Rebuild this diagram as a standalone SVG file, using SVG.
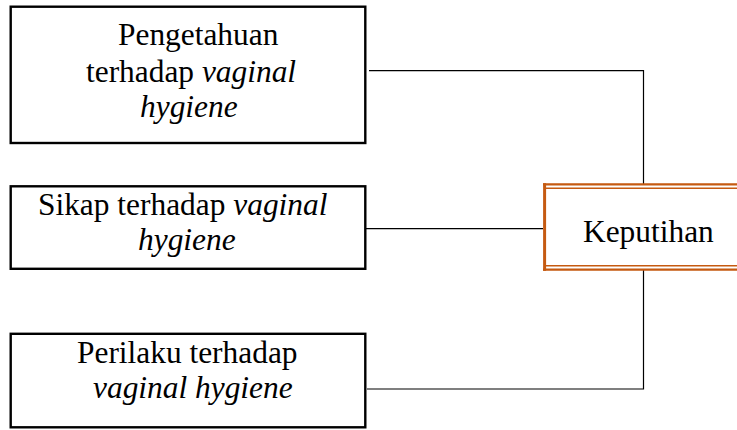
<svg xmlns="http://www.w3.org/2000/svg" width="737" height="430" viewBox="0 0 737 430">
<style>
.box{fill:#fff;stroke:#000;stroke-width:2.4}
.t{font-family:"Liberation Serif","Times New Roman",serif;font-size:31.4px;fill:#000}
.i{font-style:italic}
.c{fill:none;stroke:#000;stroke-width:1.2}
.o{stroke:#c55a11;fill:none}
</style>
<rect width="737" height="430" fill="#fff"/>
<g id="connectors">
<path class="c" d="M369 70.7H643.5V184"/>
<path class="c" d="M360 228.7H543"/>
<path class="c" d="M643.5 270V389H367"/>
</g>
<g id="pengetahuan">
<rect class="box" x="10.7" y="6.7" width="354.6" height="136.3"/>
<text class="t" x="118" y="45">Pengetahuan</text>
<text class="t" x="86" y="82">terhadap <tspan class="i">vaginal</tspan></text>
<text class="t i" x="140" y="117">hygiene</text>
</g>
<g id="sikap">
<rect class="box" x="10.7" y="186.3" width="354.6" height="82.5"/>
<text class="t" x="38" y="215">Sikap terhadap <tspan class="i">vaginal</tspan></text>
<text class="t i" x="138" y="250">hygiene</text>
</g>
<g id="perilaku">
<rect class="box" x="10.7" y="333.8" width="354.6" height="93.5"/>
<text class="t" x="77" y="363">Perilaku terhadap</text>
<text class="t i" x="93" y="398">vaginal hygiene</text>
</g>
<g id="keputihan">
<rect x="544" y="184" width="200" height="86" fill="#fff"/>
<path class="o" stroke-width="2.2" d="M543 184.3H740M543 269.7H740"/>
<path class="o" stroke-width="1.6" d="M546 188.2H740M546 265.8H740"/>
<path class="o" stroke-width="3" d="M544.6 183.2V270.8"/>
<text class="t" x="583" y="242">Keputihan</text>
</g>
</svg>
